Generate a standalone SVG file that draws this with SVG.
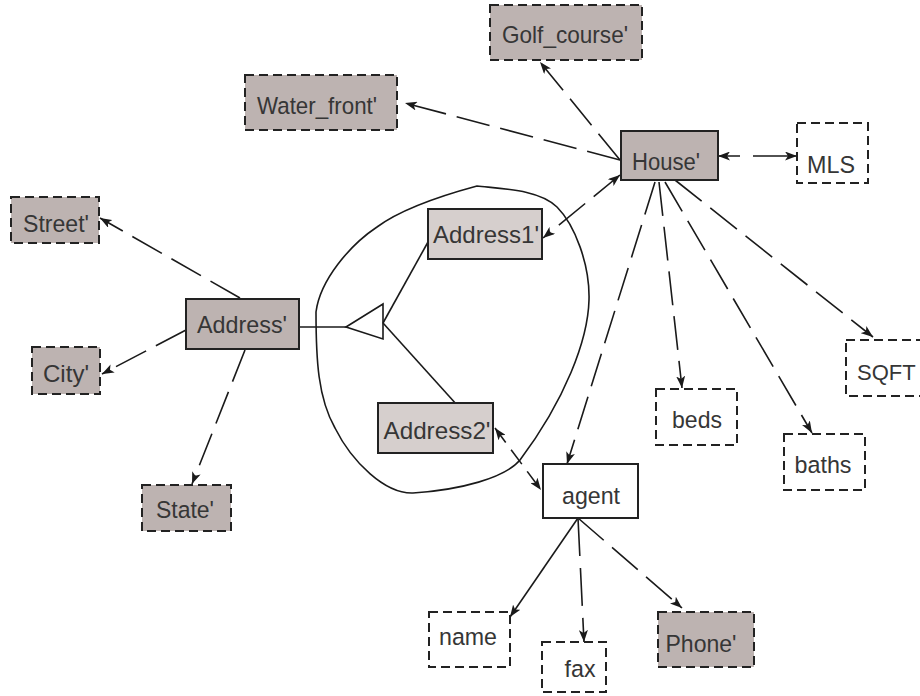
<svg xmlns="http://www.w3.org/2000/svg" width="920" height="696" viewBox="0 0 920 696">
  <style>
    .box { stroke: #222; stroke-width: 2; }
    .dash { stroke-dasharray: 9 5; }
    .dark { fill: #bdb3b1; }
    .light { fill: #d6cfcd; }
    .plain { fill: #fff; }
    .lbl { font-family: "Liberation Sans", Arial, sans-serif; font-size: 24.5px; fill: #363636; text-anchor: middle; }
    .edge { fill: none; stroke: #1a1a1a; stroke-width: 1.6; }
    .dl { stroke-dasharray: 34 11; }
  </style>
  <defs>
    <marker id="arr" markerUnits="userSpaceOnUse" markerWidth="13" markerHeight="9" refX="12" refY="4.5" orient="auto-start-reverse" viewBox="0 0 13 9">
      <path d="M0,0 L12,4.5 L0,9 L3,4.5 Z" fill="#1a1a1a" stroke="none"/>
    </marker>
  </defs>

  <!-- grouping outline around the two address variants -->
  <path class="edge" d="M477,186 C505,189 540,190 557,207 C575,225 590,265 589,300 C588,340 565,400 520,460 C505,478 460,490 413,493 C385,494 352,462 335,428 C318,398 316,360 316,312 C320,280 350,245 377,227 C400,210 440,196 477,186 Z"/>

  <g id="connectors">
    <path class="edge dl" d="M620,160 L540,62" marker-end="url(#arr)"/>
    <path class="edge dl" d="M620,160 L405,103" marker-end="url(#arr)"/>
    <path class="edge dl" d="M620,175 L543,238" marker-start="url(#arr)" marker-end="url(#arr)"/>
    <path class="edge" style="stroke-dasharray:22 13 50" d="M718,156 L797,156" marker-start="url(#arr)" marker-end="url(#arr)"/>
    <path class="edge dl" d="M655,182 L567,464" marker-end="url(#arr)"/>
    <path class="edge dl" d="M659,182 L682,388" marker-end="url(#arr)"/>
    <path class="edge dl" d="M665,182 L812,433" marker-end="url(#arr)"/>
    <path class="edge dl" d="M675,180 L873,337" marker-end="url(#arr)"/>
    <path class="edge dl" d="M240,298 L100,218" marker-end="url(#arr)"/>
    <path class="edge dl" d="M186,330 L102,374" marker-end="url(#arr)"/>
    <path class="edge dl" d="M245,350 L192,484" marker-end="url(#arr)"/>
    <!-- generalisation: Address' to its two variants -->
    <path class="edge" d="M299,327 L346,327"/>
    <polygon class="edge" points="346,327 383,304 383,339" fill="#fff"/>
    <path class="edge" d="M383,323 L428,242"/>
    <path class="edge" d="M383,323 L457,405"/>
    <path class="edge" style="stroke-dasharray:18 9" d="M495,428 L541,490" marker-start="url(#arr)" marker-end="url(#arr)"/>
    <path class="edge" d="M578,518 L510,617" marker-end="url(#arr)"/>
    <path class="edge" style="stroke-dasharray:38 12" d="M578,518 L584,642" marker-end="url(#arr)"/>
    <path class="edge dl" d="M578,518 L682,608" marker-end="url(#arr)"/>
  </g>

  <g id="golf_course">
    <rect class="box dash dark" x="490" y="5" width="152" height="55"/>
    <text class="lbl" x="565" y="43" textLength="126" lengthAdjust="spacingAndGlyphs">Golf_course'</text>
  </g>
  <g id="water_front">
    <rect class="box dash dark" x="245" y="75" width="152" height="55"/>
    <text class="lbl" x="317" y="114" textLength="120" lengthAdjust="spacingAndGlyphs">Water_front'</text>
  </g>
  <g id="house">
    <rect class="box dark" x="621" y="131" width="97" height="49"/>
    <text class="lbl" x="666" y="170" textLength="68" lengthAdjust="spacingAndGlyphs">House'</text>
  </g>
  <g id="mls">
    <rect class="box dash plain" x="797" y="123" width="71" height="60"/>
    <text class="lbl" x="831" y="173" textLength="48" lengthAdjust="spacingAndGlyphs">MLS</text>
  </g>
  <g id="street">
    <rect class="box dash dark" x="11" y="197" width="88" height="46"/>
    <text class="lbl" x="56" y="232" textLength="66" lengthAdjust="spacingAndGlyphs">Street'</text>
  </g>
  <g id="address">
    <rect class="box dark" x="186" y="299" width="113" height="50"/>
    <text class="lbl" x="242" y="333" textLength="90" lengthAdjust="spacingAndGlyphs">Address'</text>
  </g>
  <g id="city">
    <rect class="box dash dark" x="32" y="347" width="68" height="47"/>
    <text class="lbl" x="66" y="382" textLength="46" lengthAdjust="spacingAndGlyphs">City'</text>
  </g>
  <g id="state">
    <rect class="box dash dark" x="142" y="485" width="89" height="46"/>
    <text class="lbl" x="185" y="518" textLength="58" lengthAdjust="spacingAndGlyphs">State'</text>
  </g>
  <g id="address1">
    <rect class="box light" x="428" y="209" width="114" height="50"/>
    <text class="lbl" x="486" y="243" textLength="106" lengthAdjust="spacingAndGlyphs">Address1'</text>
  </g>
  <g id="address2">
    <rect class="box light" x="378" y="403" width="115" height="50"/>
    <text class="lbl" x="437" y="439" textLength="107" lengthAdjust="spacingAndGlyphs">Address2'</text>
  </g>
  <g id="agent">
    <rect class="box plain" x="543" y="464" width="95" height="54"/>
    <text class="lbl" x="591" y="504" textLength="58" lengthAdjust="spacingAndGlyphs">agent</text>
  </g>
  <g id="beds">
    <rect class="box dash plain" x="656" y="389" width="81" height="56"/>
    <text class="lbl" x="697" y="428" textLength="50" lengthAdjust="spacingAndGlyphs">beds</text>
  </g>
  <g id="baths">
    <rect class="box dash plain" x="784" y="434" width="81" height="56"/>
    <text class="lbl" x="823" y="473" textLength="57" lengthAdjust="spacingAndGlyphs">baths</text>
  </g>
  <g id="sqft">
    <rect class="box dash plain" x="846" y="340" width="90" height="56"/>
    <text class="lbl" x="857" y="380" style="text-anchor:start;font-size:22px">SQFT</text>
  </g>
  <g id="name">
    <rect class="box dash plain" x="429" y="612" width="81" height="55"/>
    <text class="lbl" x="468" y="645" textLength="58" lengthAdjust="spacingAndGlyphs">name</text>
  </g>
  <g id="fax">
    <rect class="box dash plain" x="542" y="642" width="64" height="50"/>
    <text class="lbl" x="580" y="677" textLength="31" lengthAdjust="spacingAndGlyphs">fax</text>
  </g>
  <g id="phone">
    <rect class="box dash dark" x="658" y="612" width="96" height="55"/>
    <text class="lbl" x="701" y="652" textLength="71" lengthAdjust="spacingAndGlyphs">Phone'</text>
  </g>
</svg>
